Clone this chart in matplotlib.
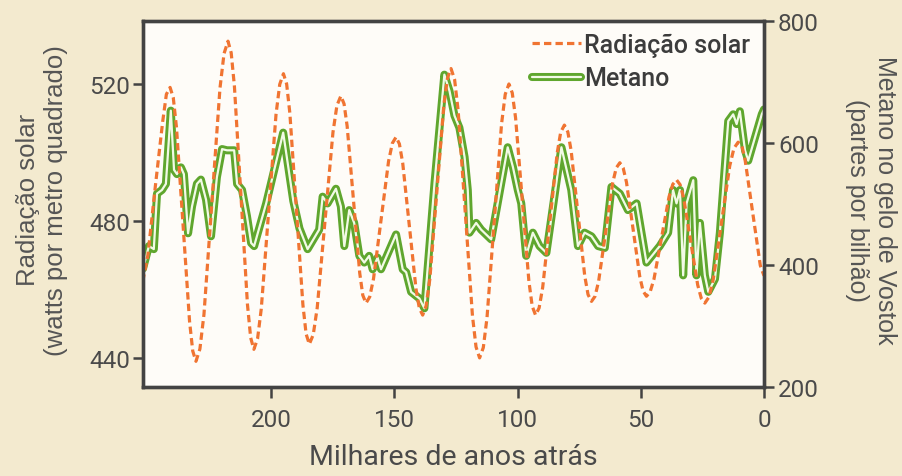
import matplotlib
matplotlib.use("Agg")
import matplotlib.pyplot as plt
import matplotlib.patheffects as pe

# Solar radiation (watts per square metre) versus thousands of years ago
solar_age = [253, 250, 247, 244, 242.5, 241, 239.7, 238.4, 235.75, 233.1,
             231.8, 230.5, 228.9, 227.25, 224, 220.75, 219.1, 217.5, 216.2, 214.9,
             212.25, 209.6, 208.3, 207, 205.5, 204, 201, 198, 196.5, 195,
             193.7, 192.4, 189.75, 187.1, 185.8, 184.5, 182.9, 181.3, 178.1, 174.9,
             173.3, 171.7, 170.4, 169.15, 166.6, 164.05, 162.8, 161.5, 160, 158.45,
             155.4, 152.35, 150.8, 149.3, 147.95, 146.6, 143.9, 141.2, 139.85, 138.5,
             137.1, 135.6, 132.75, 129.9, 128.4, 127, 125.55, 124.1, 121.2, 118.3,
             116.85, 115.4, 113.9, 112.4, 109.45, 106.5, 105, 103.5, 102.15, 100.8,
             98.1, 95.4, 94.05, 92.7, 91.25, 89.8, 86.85, 83.9, 82.5, 81,
             79.6, 78.25, 75.5, 72.75, 71.4, 70, 68.55, 67.1, 64.25, 61.4,
             59.95, 58.5, 57.15, 55.8, 53.1, 50.4, 49.05, 47.7, 46.2, 44.65,
             41.6, 38.55, 37, 35.5, 34.05, 32.6, 29.75, 26.9, 25.45, 24,
             22.3, 20.6, 17.25, 13.9, 12.2, 10.5, 9, 7.7, 4.3, 1.5,
             0]
solar_wm2 = [459, 470, 490, 509, 517, 519, 516, 507.3, 479, 450.7,
             442, 439, 442.6, 452.7, 485.8, 518.8, 528.9, 532.5, 529.1, 519.4,
             487.5, 455.6, 445.9, 442.5, 445.6, 454.3, 482.8, 511.2, 519.9, 523,
             520, 511.5, 483.5, 455.5, 447, 444, 446.8, 454.6, 480.3, 505.9,
             513.7, 516.5, 514.2, 507.7, 486.3, 464.8, 458.3, 456, 457.8, 463.1,
             480.3, 497.4, 502.7, 504.5, 502.5, 496.9, 478.5, 460.1, 454.5, 452.5,
             455.2, 463, 488.5, 514, 521.8, 524.5, 521.3, 512.2, 482.3, 452.3,
             443.2, 440, 443, 451.7, 480, 508.3, 517, 520, 517.4, 510.1,
             486.3, 462.4, 455.1, 452.5, 454.6, 460.6, 480.3, 499.9, 505.9, 508,
             506, 500.5, 482.3, 464, 458.5, 456.5, 458, 462.4, 476.8, 491.1,
             495.5, 497, 495.5, 491.3, 477.5, 463.7, 459.5, 458, 459.3, 463,
             475, 487, 490.7, 492, 490.6, 486.7, 474, 461.3, 457.4, 456,
             457.8, 462.9, 479.5, 496.1, 501.2, 503, 502, 498, 481, 467,
             464]

# Methane in Vostok ice (parts per billion)
ch4_age = [252, 249.6, 247.6, 246.3, 244.3, 242.7, 240.7, 239.4, 238.2, 236.6,
           235.4, 233.7, 232.1, 230.1, 228.5, 226.4, 224.4, 222.0, 219.9, 217.9,
           215.0, 213.8, 211.8, 209.8, 208.1, 206.9, 202.0, 195.1, 191.0, 188.5,
           185.2, 180.5, 179.1, 177.1, 173.7, 171.7, 170.3, 168.3, 166.3, 164.2,
           162.2, 160.2, 158.8, 156.8, 155.4, 149.3, 146.6, 145.2, 143.2, 139.8,
           137.8, 133.7, 129.7, 127.6, 125.6, 123.6, 121.5, 120.2, 119.5, 116.8,
           114.8, 110.7, 104.0, 101.9, 99.9, 98.5, 96.5, 93.8, 91.1, 88.3,
           82.2, 78.2, 75.5, 72.8, 70.0, 67.3, 64.6, 61.9, 58.5, 55.2,
           51.7, 47.7, 42.3, 38.9, 36.9, 35.5, 34.1, 32.8, 31.4, 28.7,
           27.4, 26.0, 24.0, 22.6, 19.9, 17.9, 14.5, 12.5, 11.1, 9.8,
           7.7, 6.4, 0.9, 0]
ch4_ppb = [394, 431, 426, 517, 523, 533, 653, 556, 549, 560,
           549, 452, 496, 533, 540, 507, 447, 544, 590, 588,
           588, 533, 523, 480, 436, 431, 501, 617, 505, 460,
           426, 458, 512, 501, 525, 496, 431, 490, 469, 415,
           404, 415, 393, 412, 393, 450, 393, 388, 356, 345,
           329, 534, 712, 685, 645, 625, 577, 523, 453, 469,
           458, 442, 593, 561, 523, 501, 415, 453, 431, 420,
           593, 523, 431, 453, 447, 431, 428, 528, 517, 490,
           501, 404, 431, 453, 523, 501, 523, 383, 501, 539,
           383, 469, 383, 356, 377, 453, 636, 647, 631, 652,
           588, 571, 647, 655]

left_ticks = [440, 480, 520]
right_ticks = [200, 400, 600, 800]
x_ticks = [200, 150, 100, 50, 0]

BG = "#f3eacf"
PLOT_BG = "#fefcf8"
INK = "#434343"
TXT = "#4a4a4a"
ORANGE = "#f07432"
GREEN = "#5fa62e"
GREEN_IN = "#f2fae6"

plt.rcParams["font.family"] = ["Roboto", "DejaVu Sans"]

fig = plt.figure(figsize=(9.02, 4.77), dpi=100, facecolor=BG)
ax2 = fig.add_axes([0.1585, 0.1866, 0.6885, 0.7673])
ax = ax2.twinx()
# solar axis on the left, drawn above the methane axis
ax.yaxis.tick_left()
ax.yaxis.set_label_position("left")
ax2.yaxis.tick_right()
ax.set_zorder(ax2.get_zorder() + 1)
ax.patch.set_visible(False)
ax2.set_facecolor(PLOT_BG)

ln_ch4, = ax2.plot(ch4_age, ch4_ppb, color=GREEN_IN, lw=1.6,
                   solid_joinstyle="round", solid_capstyle="round",
                   label="Metano",
                   path_effects=[pe.Stroke(linewidth=5.8, foreground=GREEN,
                                           joinstyle="round"),
                                 pe.Normal()])
ln_sol, = ax.plot(solar_age, solar_wm2, color=ORANGE, lw=2.3,
                  linestyle=(0, (2.3, 1.3)), dash_joinstyle="round",
                  label="Radiação solar")

ax.set_xlim(252, 0)
ax.set_ylim(431.5, 538.4)
ax2.set_ylim(208, 800)

ax.set_yticks(left_ticks)
ax2.set_yticks(right_ticks)
ax2.set_xticks(x_ticks)

for a in (ax, ax2):
    for s in a.spines.values():
        s.set_color(INK)
        s.set_linewidth(2.4)
    a.tick_params(colors=INK, labelcolor=TXT, labelsize=17.5,
                  width=1.8, length=7, pad=2)
ax2.tick_params(axis="x", length=8, pad=7)
ax2.tick_params(axis="y", pad=3)

ax2.set_xlabel("Milhares de anos atrás", fontsize=20.5, color=TXT,
               labelpad=9)

fig.text(0.047, 0.58, "Radiação solar\n(watts por metro quadrado)",
         rotation=90, ha="center", va="center", multialignment="center",
         fontsize=18.5, color="#555555", linespacing=1.2,
         family=["Liberation Sans", "DejaVu Sans"])
fig.text(0.966, 0.58, "Metano no gelo de Vostok\n(partes por bilhão)",
         rotation=-90, ha="center", va="center", multialignment="center",
         fontsize=18, color="#555555", linespacing=1.2,
         family=["Liberation Sans", "DejaVu Sans"])

leg = ax.legend(handles=[ln_sol, ln_ch4], loc="upper right",
                bbox_to_anchor=(0.977, 0.968), frameon=False,
                fontsize=18, handlelength=1.95, handletextpad=0.12,
                labelspacing=0.38, borderpad=0, borderaxespad=0)
for t in leg.get_texts():
    t.set_color("#3c3c3c")
    t.set_fontweight("medium")

fig.savefig("out.png", dpi=100, facecolor=BG)
